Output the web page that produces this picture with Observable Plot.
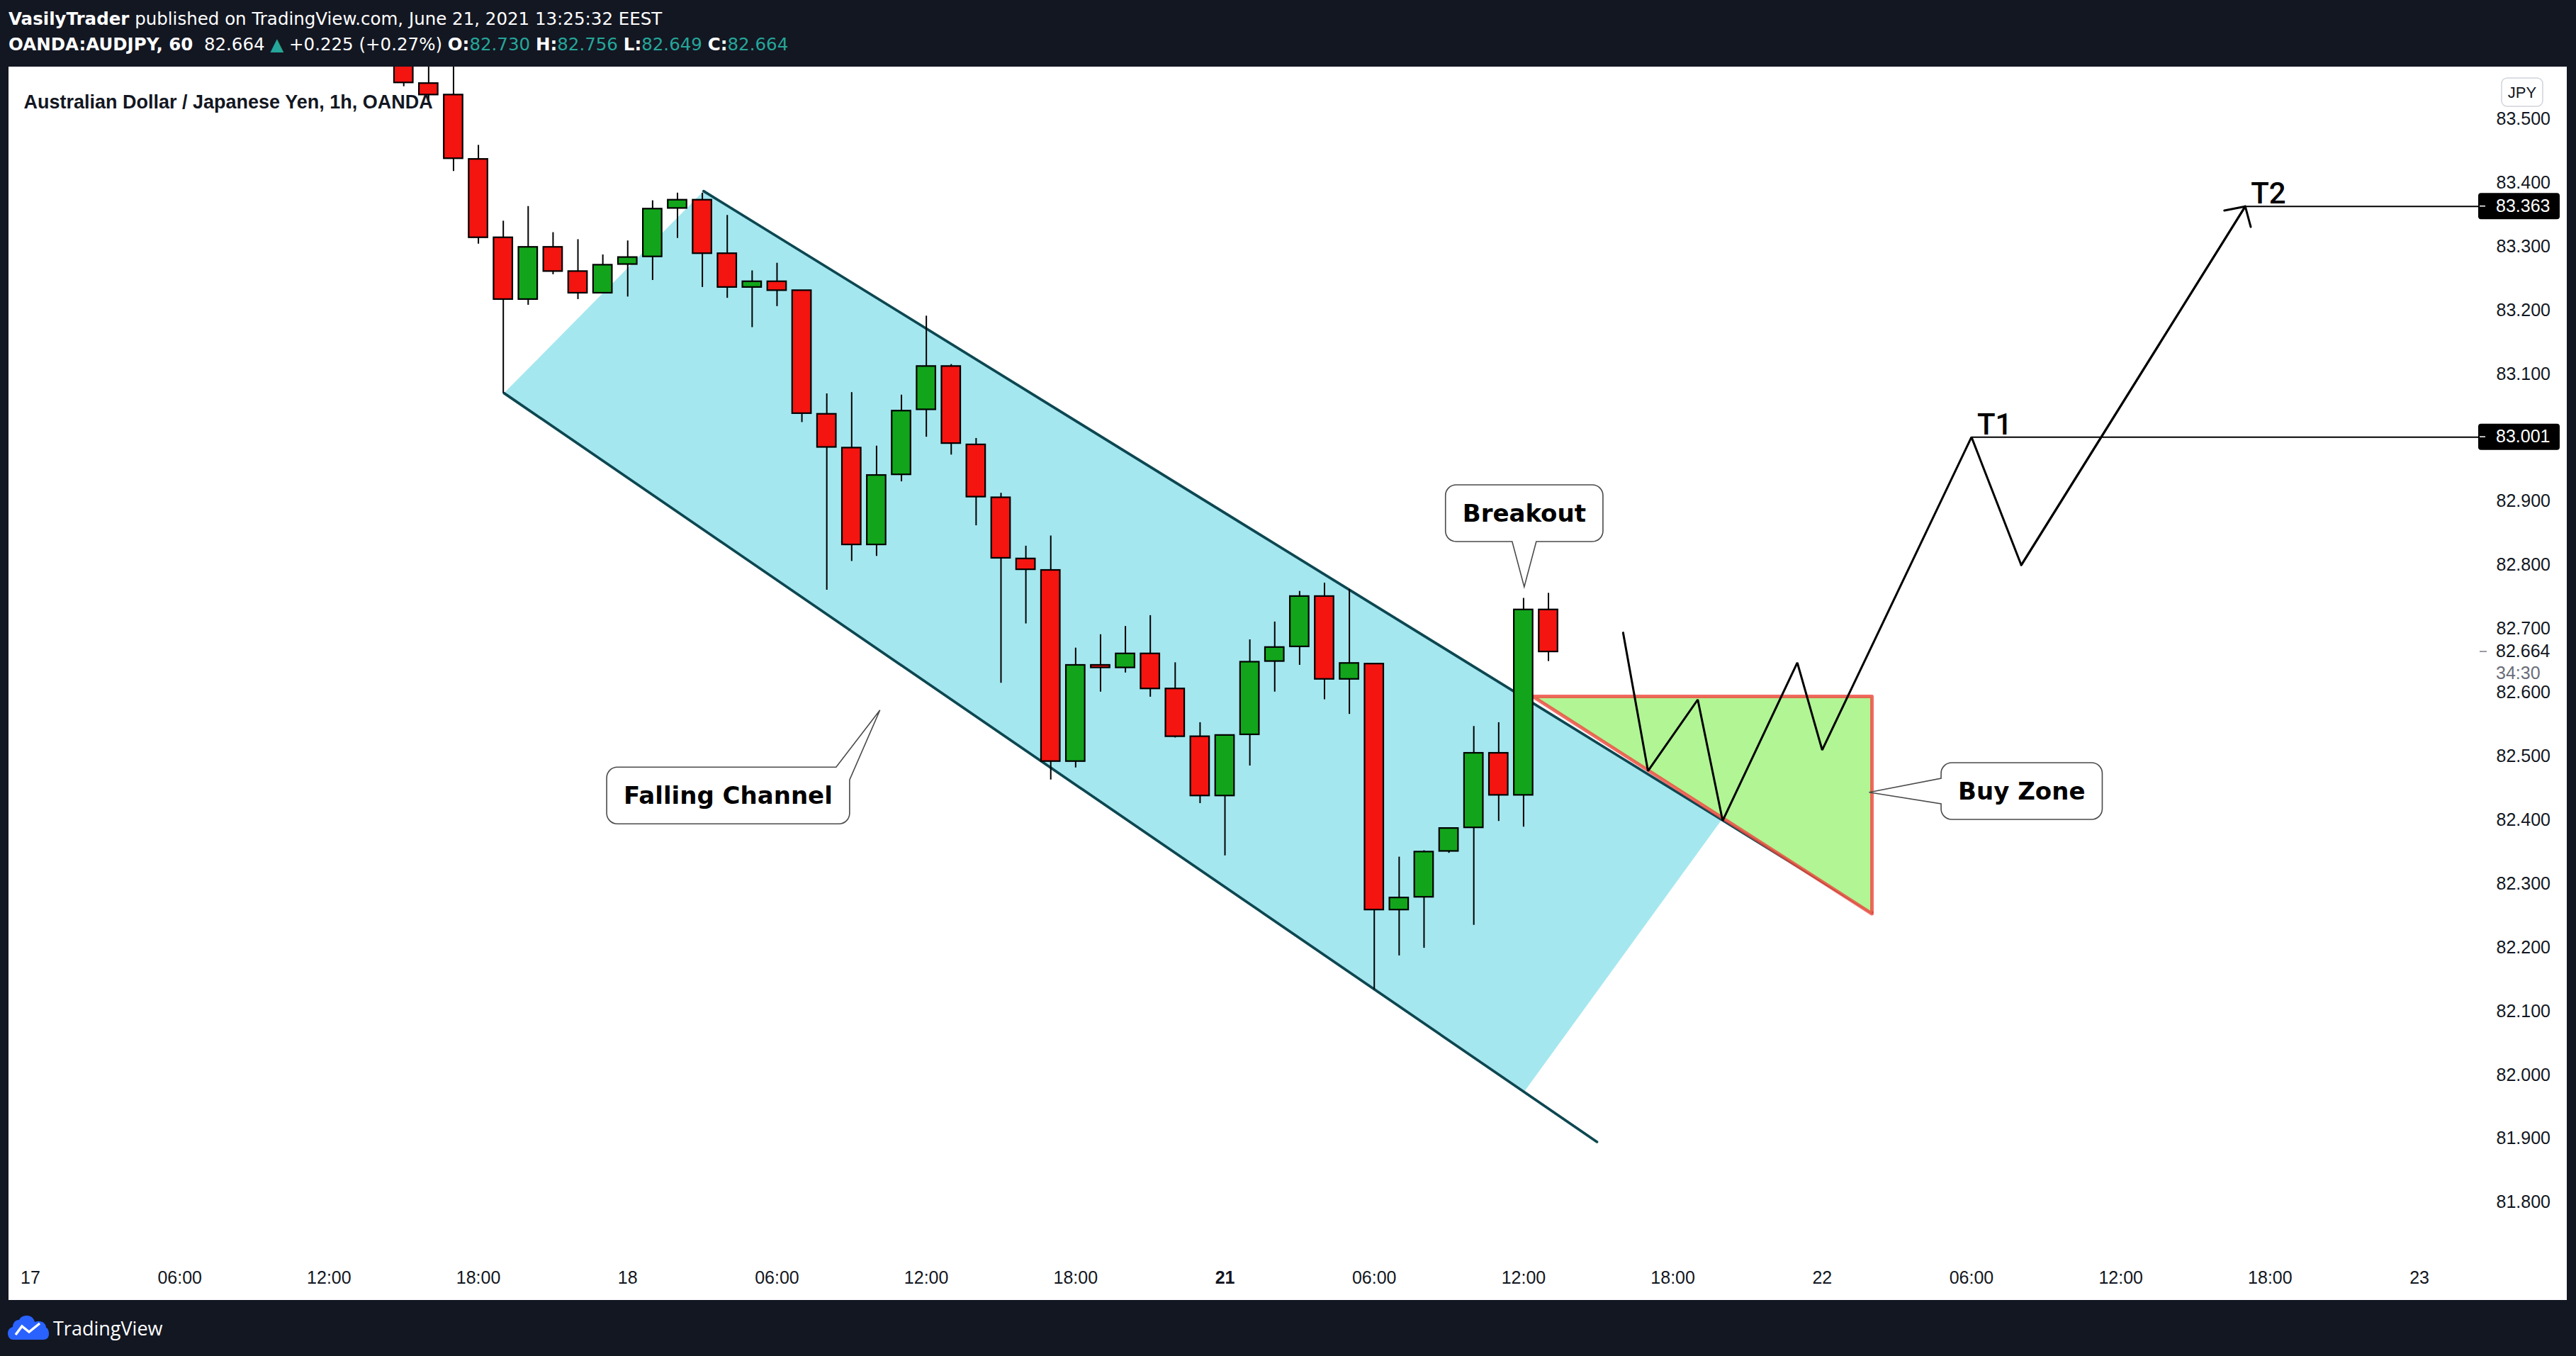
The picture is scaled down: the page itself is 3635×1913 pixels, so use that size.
<!DOCTYPE html>
<html>
<head>
<meta charset="utf-8">
<script src="https://cdn.jsdelivr.net/npm/d3@7"></script>
<script src="https://cdn.jsdelivr.net/npm/@observablehq/plot@0.6"></script>
<style>
  html, body { margin: 0; padding: 0; background: #131722; }
  body { width: 3635px; height: 1913px; position: relative; overflow: hidden; font-family: "DejaVu Sans", Verdana, sans-serif; }
  .hdr { position: absolute; left: 12px; color: #ffffff; font-size: 24.5px; line-height: 36px; white-space: nowrap; }
  #h1 { top: 9px; }
  #h2 { top: 45px; }
  .teal { color: #26a69a; }
  #chart { position: absolute; left: 12px; top: 94px; width: 3610px; height: 1740px; background: #ffffff; }
  #footer { position: absolute; left: 11px; top: 1855px; height: 36px; display: flex; align-items: center; color: #ffffff; font-size: 27px; font-family: "Open Sans", sans-serif; }
  #footer svg { margin-right: 6px; }
</style>
</head>
<body>
<div id="h1" class="hdr"><b>VasilyTrader</b> published on TradingView.com, June 21, 2021 13:25:32 EEST</div>
<div id="h2" class="hdr"></div>
<div id="chart"></div>
<div id="footer">
  <svg width="58" height="34" viewBox="0 0 58 34">
    <path d="M8 34C2 34 0 29 0 25C0 20 3 17 7 16C7 10 11 6 16 6C18 2 22 0 27 0C33 0 37 4 38 9C40 8 42 8 44 8C50 8 54 12 54 17C57 18 58 22 58 26C58 31 55 34 50 34Z" fill="#2962ff"/>
    <path d="M11 27L20 15L30 23L45 11" fill="none" stroke="#ffffff" stroke-width="3.5"/>
  </svg>
  <span>TradingView</span>
</div>
<script>
// ---------- data ----------
const barIndex = [15,16,17,18,19,20,21,22,23,24,25,26,27,28,29,30,31,32,33,34,35,36,37,38,39,40,41,42,43,44,45,46,47,48,49,50,51,52,53,54,55,56,57,58,59,60,61];
const openPrice  = [83.600,83.556,83.538,83.437,83.314,83.217,83.299,83.261,83.227,83.272,83.284,83.360,83.373,83.289,83.236,83.245,83.231,83.037,82.984,82.832,82.942,83.044,83.112,82.989,82.906,82.810,82.792,82.492,82.643,82.639,82.661,82.606,82.531,82.438,82.534,82.649,82.672,82.751,82.621,82.645,82.259,82.279,82.351,82.388,82.505,82.439,82.730];
const highPrice  = [83.620,83.600,83.600,83.459,83.340,83.363,83.322,83.311,83.287,83.309,83.372,83.384,83.384,83.349,83.262,83.274,83.231,83.069,83.071,82.987,83.067,83.191,83.115,82.999,82.913,82.830,82.846,82.670,82.691,82.704,82.721,82.647,82.553,82.533,82.683,82.711,82.759,82.772,82.762,82.645,82.342,82.352,82.387,82.547,82.553,82.748,82.756];
const lowPrice   = [83.551,83.529,83.418,83.304,83.070,83.208,83.256,83.217,83.227,83.221,83.247,83.313,83.236,83.219,83.173,83.206,83.024,82.761,82.806,82.814,82.931,83.001,82.973,82.862,82.615,82.708,82.463,82.482,82.601,82.631,82.593,82.529,82.426,82.344,82.485,82.601,82.643,82.589,82.566,82.134,82.187,82.199,82.348,82.235,82.398,82.389,82.649];
const closePrice = [83.557,83.538,83.438,83.314,83.217,83.299,83.261,83.227,83.271,83.283,83.359,83.373,83.289,83.236,83.245,83.231,83.038,82.985,82.832,82.941,83.042,83.112,82.991,82.907,82.811,82.793,82.492,82.643,82.639,82.661,82.606,82.531,82.438,82.533,82.648,82.671,82.751,82.621,82.646,82.259,82.278,82.350,82.387,82.505,82.439,82.730,82.664];

const xTickIndex = [0,6,12,18,24,30,36,42,48,54,60,66,72,78,84,90,96];
const xTickLabel = ["17","06:00","12:00","18:00","18","06:00","12:00","18:00","21","06:00","12:00","18:00","22","06:00","12:00","18:00","23"];
const xBoldTick = [48];
const yTickValues = [81.8,81.9,82.0,82.1,82.2,82.3,82.4,82.5,82.6,82.7,82.8,82.9,83.0,83.1,83.2,83.3,83.4,83.5];

// falling channel (bar index, price)
const channelFillIndex = [19.03, 27.05, 67.95, 60.05];
const channelFillPrice = [83.070, 83.387, 82.400, 81.975];
const channelLineName  = ["upper","upper","lower","lower"];
const channelLineIndex = [27.05, 74.0, 19.03, 62.95];
const channelLinePrice = [83.387, 82.255, 83.070, 81.895];

// buy zone triangle
const buyZoneIndex = [60.37, 74.0, 74.0];
const buyZonePrice = [82.594, 82.594, 82.253];

// projected path
const pathIndex = [64, 65, 67, 68, 71, 72, 78, 80, 89];
const pathPrice = [82.694, 82.477, 82.589, 82.399, 82.647, 82.510, 83.001, 82.800, 83.363];

// targets
const targetName  = ["T1", "T2"];
const targetIndex = [78, 89];
const targetPrice = [83.001, 83.363];

// callouts
const calloutText      = ["Falling Channel", "Breakout", "Buy Zone"];
const calloutTipIndex  = [34.15, 60.04, 73.9];
const calloutTipPrice  = [82.572, 82.7655, 82.443];
const calloutBoxIndex  = [28.05, 60.04, 80.03];
const calloutBoxPrice  = [82.438, 82.881, 82.445];
const calloutSide      = ["topright", "bottom", "left"];

const lastPrice = 82.664;
const countdown = "34:30";
const symbolTitle = "Australian Dollar / Japanese Yen, 1h, OANDA";
const currencyLabel = "JPY";

// ---------- header line 2 from last bar ----------
const k = barIndex.length - 1;
document.getElementById("h2").innerHTML =
  `<b>OANDA:AUDJPY, 60</b>&nbsp; ${closePrice[k].toFixed(3)} <span class="teal">▲</span> +0.225 (+0.27%) ` +
  `<b>O:</b><span class="teal">${openPrice[k].toFixed(3)}</span> <b>H:</b><span class="teal">${highPrice[k].toFixed(3)}</span> ` +
  `<b>L:</b><span class="teal">${lowPrice[k].toFixed(3)}</span> <b>C:</b><span class="teal">${closePrice[k].toFixed(3)}</span>`;

// ---------- tables ----------
const candles = barIndex.map((i, j) => ({i, o: openPrice[j], h: highPrice[j], l: lowPrice[j], c: closePrice[j]}));
const upCandles = candles.filter(d => d.c >= d.o);
const downCandles = candles.filter(d => d.c < d.o);
const channelFill = channelFillIndex.map((i, j) => ({i, p: channelFillPrice[j]}));
const channelLines = channelLineIndex.map((i, j) => ({i, p: channelLinePrice[j], z: channelLineName[j]}));
const buyZone = buyZoneIndex.map((i, j) => ({i, p: buyZonePrice[j]}));
const path = pathIndex.map((i, j) => ({i, p: pathPrice[j]}));
const targets = targetName.map((n, j) => ({n, i: targetIndex[j], p: targetPrice[j]}));
const lastSeg = [{x1: pathIndex[pathIndex.length - 2], y1: pathPrice[pathPrice.length - 2], x2: pathIndex[pathIndex.length - 1], y2: pathPrice[pathPrice.length - 1]}];
const labelOf = new Map(xTickIndex.map((t, j) => [t, xTickLabel[j]]));
// axis labels hidden behind the target price tags
const shownYTicks = yTickValues.filter(v => !targetPrice.some(p => Math.abs(p - v) < 0.02));

const xDomain = [-0.8686, 98.376];
const yDomain = [81.7197, 83.5818];
const half = 0.378;
const GREEN = "#12a51b", RED = "#f41410";
const AXIS_FONT = "'Liberation Sans', Arial, sans-serif";

const chart = Plot.plot({
  width: 3610,
  height: 1740,
  marginLeft: 0,
  marginRight: 125,
  marginTop: 0,
  marginBottom: 66,
  style: {background: "#ffffff", color: "#131722", fontFamily: AXIS_FONT, fontSize: "25px"},
  x: {domain: xDomain, axis: null},
  y: {domain: yDomain, axis: null},
  marks: [
    Plot.line(channelFill, {x: "i", y: "p", curve: "linear-closed", fill: "#a5e7ef", stroke: "none", clip: true}),
    Plot.line(channelLines, {x: "i", y: "p", z: "z", stroke: "#0d4751", strokeWidth: 3.7, clip: true}),
    Plot.line(buyZone, {x: "i", y: "p", curve: "linear-closed", fill: "#b1f594", stroke: "#f0453c", strokeOpacity: 0.8, strokeWidth: 5, clip: true}),
    Plot.ruleX(candles, {x: "i", y1: "l", y2: "h", stroke: "#000000", strokeWidth: 2, clip: true}),
    Plot.rect(upCandles, {x1: d => d.i - half, x2: d => d.i + half, y1: "o", y2: "c", fill: GREEN, stroke: "#000000", strokeWidth: 2.2, clip: true}),
    Plot.rect(downCandles, {x1: d => d.i - half, x2: d => d.i + half, y1: "o", y2: "c", fill: RED, stroke: "#000000", strokeWidth: 2.2, clip: true}),
    Plot.ruleY(targets, {y: "p", x1: "i", x2: () => xDomain[1], stroke: "#000000", strokeWidth: 2}),
    Plot.line(path, {x: "i", y: "p", stroke: "#000000", strokeWidth: 3, strokeLinejoin: "miter"}),
    Plot.arrow(lastSeg, {x1: "x1", y1: "y1", x2: "x2", y2: "y2", stroke: "#000000", strokeWidth: 3, headLength: 15, headAngle: 94}),
    Plot.text(targets, {x: "i", y: "p", text: "n", textAnchor: "start", lineAnchor: "bottom", dx: 8, dy: -4, fontSize: 42, fontWeight: 500, fontFamily: "Roboto, 'Liberation Sans', sans-serif", fill: "#000000"}),
    Plot.text([symbolTitle], {frameAnchor: "top-left", dx: 21, dy: 39, textAnchor: "start", fontWeight: "bold", fontSize: 27, fill: "#131722"}),
    Plot.axisX(xTickIndex.filter(t => !xBoldTick.includes(t)), {anchor: "bottom", tickSize: 0, tickPadding: 25, tickFormat: t => labelOf.get(t), label: null, fontSize: 25}),
    Plot.axisX(xBoldTick, {anchor: "bottom", tickSize: 0, tickPadding: 25, tickFormat: t => labelOf.get(t), label: null, fontSize: 25, fontWeight: "bold"}),
    Plot.axisY(shownYTicks, {anchor: "right", tickSize: 0, tickPadding: 25, tickFormat: d => d.toFixed(3), label: null, fontSize: 25})
  ]
});
document.getElementById("chart").appendChild(chart);

// ---------- annotations positioned through Plot's scales ----------
const sx = chart.scale("x"), sy = chart.scale("y");
const paneRight = 3610 - 125;
const svg = d3.select(chart);
const ann = svg.append("g").attr("text-anchor", "start").attr("font-family", AXIS_FONT);

// callouts
calloutText.forEach((txt, j) => {
  const tx = sx.apply(calloutTipIndex[j]), ty = sy.apply(calloutTipPrice[j]);
  const bx = sx.apply(calloutBoxIndex[j]), by = sy.apply(calloutBoxPrice[j]);
  const g = ann.append("g");
  const shape = g.append("path");
  const t = g.append("text").attr("x", bx).attr("y", by).attr("dy", "0.35em")
    .attr("text-anchor", "middle").attr("font-family", "'DejaVu Sans', Verdana, sans-serif")
    .attr("font-weight", "bold").attr("font-size", 34).attr("fill", "#000000").text(txt);
  const w = t.node().getComputedTextLength() + 48, h = 80, r = 15;
  const L = bx - w / 2, R = bx + w / 2, T = by - h / 2, B = by + h / 2;
  let d;
  const side = calloutSide[j];
  if (side === "topright") {
    d = `M${L + r},${T}H${R - 19}L${tx},${ty}L${R},${T + 18}V${B - r}A${r},${r} 0 0 1 ${R - r},${B}H${L + r}A${r},${r} 0 0 1 ${L},${B - r}V${T + r}A${r},${r} 0 0 1 ${L + r},${T}Z`;
  } else if (side === "bottom") {
    d = `M${L + r},${T}H${R - r}A${r},${r} 0 0 1 ${R},${T + r}V${B - r}A${r},${r} 0 0 1 ${R - r},${B}H${bx + 17}L${tx},${ty}L${bx - 17},${B}H${L + r}A${r},${r} 0 0 1 ${L},${B - r}V${T + r}A${r},${r} 0 0 1 ${L + r},${T}Z`;
  } else {
    d = `M${L + r},${T}H${R - r}A${r},${r} 0 0 1 ${R},${T + r}V${B - r}A${r},${r} 0 0 1 ${R - r},${B}H${L + r}A${r},${r} 0 0 1 ${L},${B - r}V${by + 18}L${tx},${ty}L${L},${by - 18}V${T + r}A${r},${r} 0 0 1 ${L + r},${T}Z`;
  }
  shape.attr("d", d).attr("fill", "#ffffff").attr("stroke", "#4a4a4a").attr("stroke-width", 1.6);
});

// price tags for targets
targetPrice.forEach(p => {
  const y = sy.apply(p);
  ann.append("rect").attr("x", paneRight).attr("y", y - 18.5).attr("width", 115).attr("height", 37)
    .attr("rx", 4).attr("fill", "#000000");
  ann.append("line").attr("x1", paneRight + 2).attr("x2", paneRight + 10).attr("y1", y).attr("y2", y)
    .attr("stroke", "#ffffff").attr("stroke-width", 1.5);
  ann.append("text").attr("x", paneRight + 25).attr("y", y).attr("dy", "0.32em")
    .attr("text-anchor", "start").attr("font-size", 25).attr("fill", "#ffffff").text(p.toFixed(3));
});

// last price + countdown
{
  const y = sy.apply(lastPrice);
  ann.append("rect").attr("x", paneRight + 20).attr("y", y + 15).attr("width", 90).attr("height", 30).attr("fill", "#ffffff");
  ann.append("line").attr("x1", paneRight + 2).attr("x2", paneRight + 12).attr("y1", y).attr("y2", y)
    .attr("stroke", "#787b86").attr("stroke-width", 1.5);
  ann.append("rect").attr("x", paneRight + 20).attr("y", y - 15).attr("width", 90).attr("height", 30).attr("fill", "#ffffff");
  ann.append("text").attr("x", paneRight + 25).attr("y", y).attr("dy", "0.32em")
    .attr("text-anchor", "start").attr("font-size", 25).attr("fill", "#131722").text(lastPrice.toFixed(3));
  ann.append("text").attr("x", paneRight + 25).attr("y", y + 30.5).attr("dy", "0.32em")
    .attr("text-anchor", "start").attr("font-size", 25).attr("fill", "#6a6d78").text(countdown);
}

// currency box
ann.append("rect").attr("x", paneRight + 33).attr("y", 16).attr("width", 58).attr("height", 40).attr("rx", 8)
  .attr("fill", "#ffffff").attr("stroke", "#d1d4dc").attr("stroke-width", 1.5);
ann.append("text").attr("x", paneRight + 62).attr("y", 36).attr("dy", "0.35em").attr("text-anchor", "middle")
  .attr("font-size", 22).attr("fill", "#131722").text(currencyLabel);
</script>
</body>
</html>
